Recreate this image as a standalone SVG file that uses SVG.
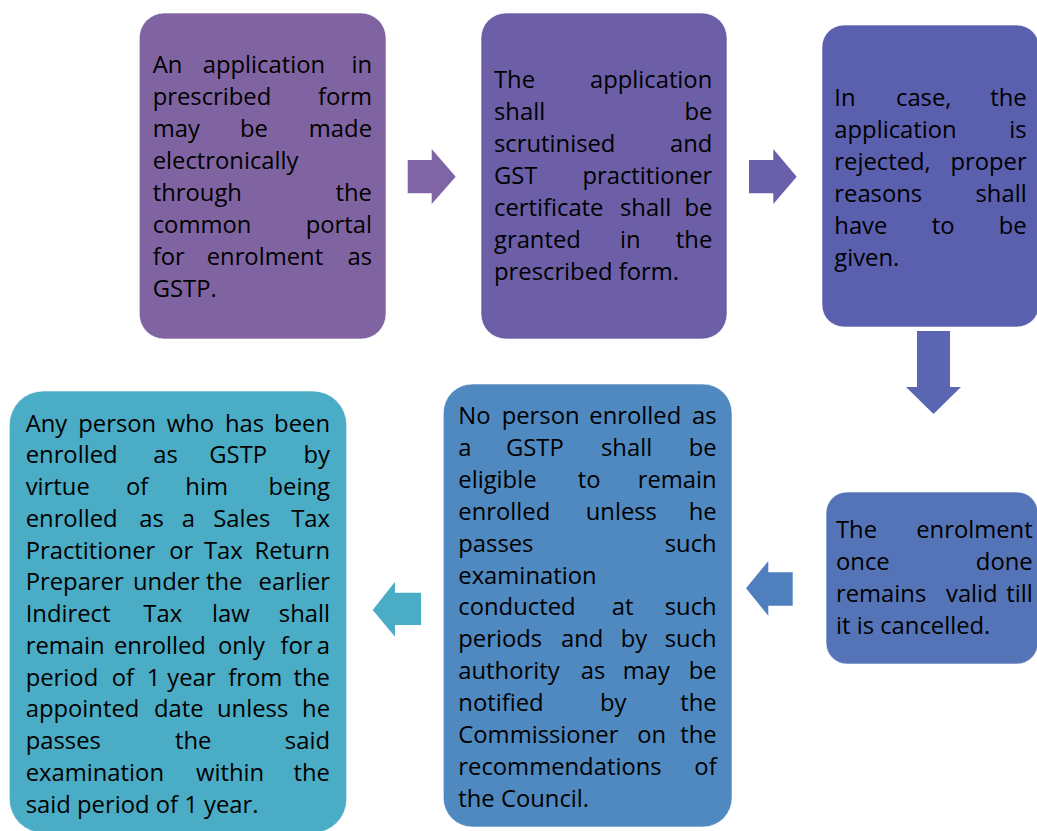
<svg xmlns="http://www.w3.org/2000/svg" width="1037" height="831" viewBox="0 0 1037 831">
<style>
text{font-family:"Open Sans","Noto Sans",sans-serif;font-size:23.8px;fill:#000}
.e{text-anchor:end}
.box{stroke:#ffffff;stroke-opacity:0.6;stroke-width:1}
</style>
<rect width="1037" height="831" fill="#ffffff"/>
<g id="connectors">
<polygon points="407.7,160 431.7,160 431.7,149 455.7,176.7 431.7,204 431.7,193.3 407.7,193.3" fill="#7F65A5"/>
<polygon points="749,160 773.3,160 773.3,149 796.7,176.7 773.3,204 773.3,193.3 749,193.3" fill="#695FAA"/>
<polygon points="917,331 950,331 950,387 961,387 933.5,414 906,387 917,387" fill="#5A66B1"/>
<polygon points="792.7,572.3 768.3,572.3 768.3,561 746,588.3 768.3,615.7 768.3,605.7 792.7,605.7" fill="#4F80BD"/>
<polygon points="421,592.7 395,592.7 395,581.7 372.7,610 395,636.7 395,625 421,625" fill="#4BACC6"/>
</g>
<g id="node1">
<rect class="box" x="139.3" y="13" width="246.7" height="326" rx="25" fill="#8064A2"/>
<text x="152.7" y="73">An</text><text x="202.7" y="73">application</text><text class="e" x="372" y="73">in</text>
<text x="152.7" y="105">prescribed</text><text class="e" x="372" y="105">form</text>
<text x="152.7" y="137">may</text><text x="240" y="137">be</text><text class="e" x="372" y="137">made</text>
<text x="152.7" y="169">electronically</text>
<text x="152.7" y="201">through</text><text class="e" x="372" y="201">the</text>
<text x="152.7" y="233">common</text><text class="e" x="372" y="233">portal</text>
<text x="152.7" y="265">for</text><text x="206.7" y="265">enrolment</text><text class="e" x="372" y="265">as</text>
<text x="152.7" y="297">GSTP.</text>
</g>
<g id="node2">
<rect class="box" x="481" y="13" width="246" height="326" rx="25" fill="#6C5FA7"/>
<text x="494" y="88">The</text><text class="e" x="712.3" y="88">application</text>
<text x="494" y="120">shall</text><text class="e" x="712.3" y="120">be</text>
<text x="494" y="152">scrutinised</text><text class="e" x="712.3" y="152">and</text>
<text x="494" y="184">GST</text><text class="e" x="712.3" y="184">practitioner</text>
<text x="494" y="216">certificate</text><text x="620" y="216">shall</text><text class="e" x="712.3" y="216">be</text>
<text x="494" y="248">granted</text><text x="620" y="248">in</text><text class="e" x="712.3" y="248">the</text>
<text x="494" y="280">prescribed form.</text>
</g>
<g id="node3">
<rect class="box" x="822" y="25" width="217" height="302" rx="22" fill="#5A5FAE"/>
<text x="834.3" y="106">In</text><text x="896" y="106">case,</text><text class="e" x="1026.7" y="106">the</text>
<text x="834.3" y="138">application</text><text class="e" x="1026.7" y="138">is</text>
<text x="834.3" y="170">rejected,</text><text class="e" x="1026.7" y="170">proper</text>
<text x="834.3" y="202">reasons</text><text class="e" x="1026.7" y="202">shall</text>
<text x="834.3" y="234">have</text><text x="931.7" y="234">to</text><text class="e" x="1026.7" y="234">be</text>
<text x="834.3" y="266">given.</text>
</g>
<g id="node4">
<rect class="box" x="826" y="492" width="212" height="172" rx="21" fill="#5574B8"/>
<text x="836" y="538">The</text><text class="e" x="1032.7" y="538">enrolment</text>
<text x="836" y="570">once</text><text class="e" x="1032.7" y="570">done</text>
<text x="836" y="602">remains</text><text x="946" y="602">valid</text><text class="e" x="1032.7" y="602">till</text>
<text x="836" y="634">it is cancelled.</text>
</g>
<g id="node5">
<rect class="box" x="443.3" y="384" width="288.7" height="443" rx="29" fill="#4F89C0"/>
<text x="458.3" y="424">No</text><text x="501.7" y="424">person</text><text x="589.3" y="424">enrolled</text><text class="e" x="716.7" y="424">as</text>
<text x="458.3" y="455.9">a</text><text x="506" y="455.9">GSTP</text><text x="601" y="455.9">shall</text><text class="e" x="716.7" y="455.9">be</text>
<text x="458.3" y="487.8">eligible</text><text x="577.7" y="487.8">to</text><text class="e" x="716.7" y="487.8">remain</text>
<text x="458.3" y="519.7">enrolled</text><text x="585.7" y="519.7">unless</text><text class="e" x="716.7" y="519.7">he</text>
<text x="458.3" y="551.6">passes</text><text class="e" x="716.7" y="551.6">such</text>
<text x="458.3" y="583.5">examination</text>
<text x="458.3" y="615.4">conducted</text><text x="611.7" y="615.4">at</text><text class="e" x="716.7" y="615.4">such</text>
<text x="458.3" y="647.3">periods</text><text x="561" y="647.3">and</text><text x="620.7" y="647.3">by</text><text class="e" x="716.7" y="647.3">such</text>
<text x="458.3" y="679.2">authority</text><text x="580.7" y="679.2">as</text><text x="622.7" y="679.2">may</text><text class="e" x="716.7" y="679.2">be</text>
<text x="458.3" y="711.1">notified</text><text x="600" y="711.1">by</text><text class="e" x="716.7" y="711.1">the</text>
<text x="458.3" y="743">Commissioner</text><text x="637.3" y="743">on</text><text class="e" x="716.7" y="743">the</text>
<text x="458.3" y="774.9">recommendations</text><text class="e" x="716.7" y="774.9">of</text>
<text x="458.3" y="806.8">the Council.</text>
</g>
<g id="node6">
<rect class="box" x="9.3" y="391" width="337.4" height="442" rx="34" fill="#4BACC6"/>
<text x="25.7" y="431.7">Any</text><text x="78.3" y="431.7">person</text><text x="166.7" y="431.7">who</text><text x="225" y="431.7">has</text><text class="e" x="330" y="431.7">been</text>
<text x="25.7" y="463.45">enrolled</text><text x="153.3" y="463.45">as</text><text x="209.3" y="463.45">GSTP</text><text class="e" x="330" y="463.45">by</text>
<text x="25.7" y="495.2">virtue</text><text x="126" y="495.2">of</text><text x="185.3" y="495.2">him</text><text class="e" x="330" y="495.2">being</text>
<text x="25.7" y="526.95">enrolled</text><text x="139.3" y="526.95">as</text><text x="181.7" y="526.95">a</text><text x="213.3" y="526.95">Sales</text><text class="e" x="330" y="526.95">Tax</text>
<text x="25.7" y="558.7">Practitioner</text><text x="169.3" y="558.7">or</text><text x="204" y="558.7">Tax</text><text class="e" x="330" y="558.7">Return</text>
<text x="25.7" y="590.45">Preparer</text><text x="133" y="590.45">under</text><text x="206" y="590.45">the</text><text class="e" x="330" y="590.45">earlier</text>
<text x="25.7" y="622.2">Indirect</text><text x="143.3" y="622.2">Tax</text><text x="212" y="622.2">law</text><text class="e" x="330" y="622.2">shall</text>
<text x="25.7" y="653.95">remain</text><text x="114" y="653.95">enrolled</text><text x="218" y="653.95">only</text><text x="280.5" y="653.95">for</text><text class="e" x="330" y="653.95">a</text>
<text x="25.7" y="685.7">period</text><text x="111.7" y="685.7">of</text><text x="146.7" y="685.7">1</text><text x="167.3" y="685.7">year</text><text x="228.3" y="685.7">from</text><text class="e" x="330" y="685.7">the</text>
<text x="25.7" y="717.45">appointed</text><text x="154" y="717.45">date</text><text x="217" y="717.45">unless</text><text class="e" x="330" y="717.45">he</text>
<text x="25.7" y="749.2">passes</text><text x="175" y="749.2">the</text><text class="e" x="330" y="749.2">said</text>
<text x="25.7" y="780.95">examination</text><text x="196" y="780.95">within</text><text class="e" x="330" y="780.95">the</text>
<text x="25.7" y="812.7">said period of 1 year.</text>
</g>
</svg>
